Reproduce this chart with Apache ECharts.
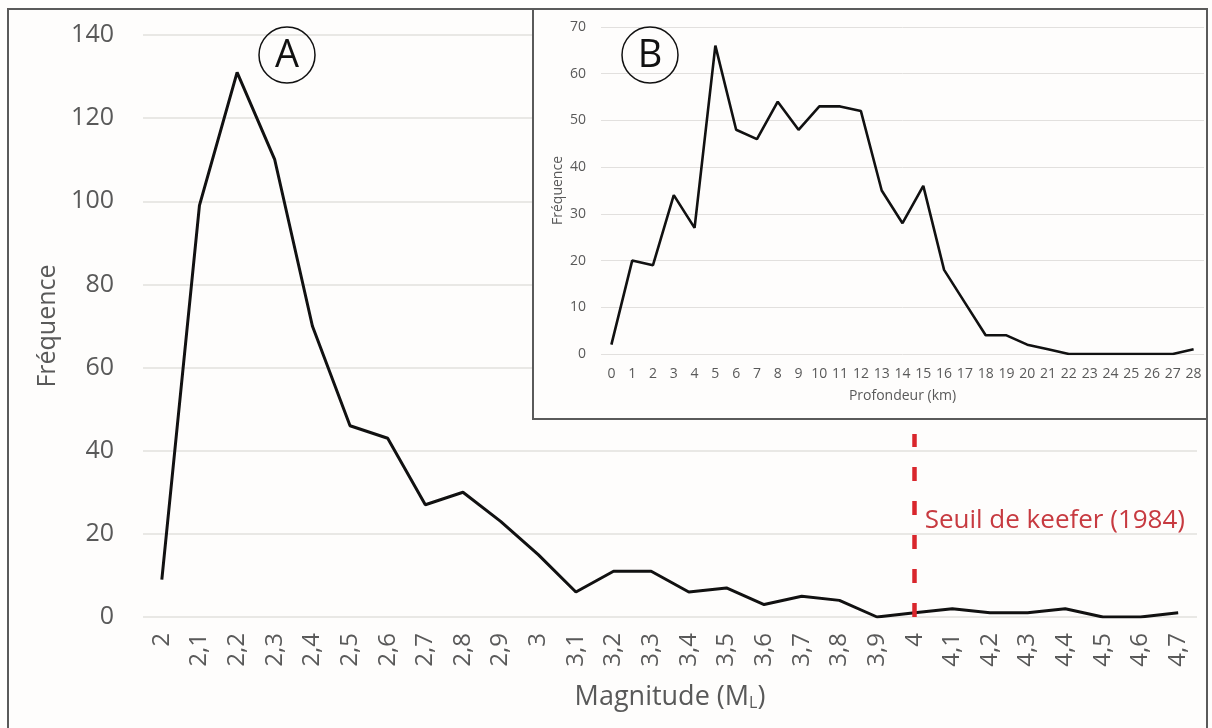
<!DOCTYPE html>
<html>
<head>
<meta charset="utf-8">
<script src="https://cdn.jsdelivr.net/npm/echarts@6/dist/echarts.min.js"></script>
<style>
html,body{margin:0;padding:0;background:#fefdfc;}
#chart{width:1212px;height:728px;}
</style>
</head>
<body>
<div id="chart"></div>
<script>
// Main chart (A): magnitude distribution
const magnitudeLabels = ['2','2,1','2,2','2,3','2,4','2,5','2,6','2,7','2,8','2,9','3','3,1','3,2','3,3','3,4','3,5','3,6','3,7','3,8','3,9','4','4,1','4,2','4,3','4,4','4,5','4,6','4,7'];
const magnitudeFreq = [9,99,131,110,70,46,43,27,30,23,15,6,11,11,6,7,3,5,4,0,1,2,1,1,2,0,0,1];

// Inset chart (B): depth distribution
const depthLabels = ['0','1','2','3','4','5','6','7','8','9','10','11','12','13','14','15','16','17','18','19','20','21','22','23','24','25','26','27','28'];
const depthFreq = [2,20,19,34,27,66,48,46,54,48,53,53,52,35,28,36,18,11,4,4,2,1,0,0,0,0,0,0,1];

// Keefer (1984) threshold
const thresholdMagnitude = '4';
const thresholdLineTop = 44;
const thresholdLabelLevel = 23.3;
const thresholdLabel = 'Seuil de keefer (1984)';

const FONT = '"Open Sans", sans-serif';
const GREY = '#595959';
const GRIDC = '#e2e0de';

const chart = echarts.init(document.getElementById('chart'), null, {renderer: 'canvas'});
chart.setOption({
  backgroundColor: '#fefdfc',
  animation: false,
  textStyle: {fontFamily: FONT},
  grid: [
    {left: 143, right: 15, top: 35, bottom: 111, outerBoundsMode: 'none', containLabel: false},
    {left: 601, right: 8, top: 27, bottom: 374, outerBoundsMode: 'none', containLabel: false, z: 6}
  ],
  xAxis: [
    {
      type: 'category', gridIndex: 0, data: magnitudeLabels, boundaryGap: true,
      axisLine: {show: false}, axisTick: {show: false},
      axisLabel: {rotate: 90, fontSize: 24, color: GREY, margin: 16, interval: 0, fontFamily: FONT},
      name: 'Magnitude (M{sub|L})', nameLocation: 'middle', nameGap: 66,
      nameTextStyle: {fontSize: 27, color: GREY, fontFamily: FONT,
        rich: {sub: {fontSize: 16, color: GREY, verticalAlign: 'bottom', fontFamily: FONT, padding: [12, 0, 0, 0]}}}
    },
    {
      type: 'category', gridIndex: 1, data: depthLabels, boundaryGap: true, z: 6,
      axisLine: {show: false}, axisTick: {show: false},
      axisLabel: {fontSize: 14, color: GREY, margin: 13, interval: 0, fontFamily: FONT},
      name: 'Profondeur (km)', nameLocation: 'middle', nameGap: 35,
      nameTextStyle: {fontSize: 14, color: GREY, fontFamily: FONT}
    }
  ],
  yAxis: [
    {
      type: 'value', gridIndex: 0, min: 0, max: 140, interval: 20,
      axisLine: {show: false}, axisTick: {show: false},
      axisLabel: {fontSize: 25, color: GREY, margin: 29, fontFamily: FONT},
      splitLine: {lineStyle: {color: GRIDC, width: 1.5}},
      name: 'Fréquence', nameLocation: 'middle', nameGap: 82,
      nameTextStyle: {fontSize: 25, color: GREY, fontFamily: FONT}
    },
    {
      type: 'value', gridIndex: 1, min: 0, max: 70, interval: 10, z: 6,
      axisLine: {show: false}, axisTick: {show: false},
      axisLabel: {fontSize: 14, color: GREY, margin: 15, fontFamily: FONT},
      splitLine: {lineStyle: {color: GRIDC, width: 1}},
      name: 'Fréquence', nameLocation: 'middle', nameGap: 36,
      nameTextStyle: {fontSize: 14, color: GREY, fontFamily: FONT}
    }
  ],
  series: [
    {
      type: 'line', xAxisIndex: 0, yAxisIndex: 0, data: magnitudeFreq,
      symbol: 'none', lineStyle: {color: '#111', width: 3}, z: 2,
      markLine: {
        silent: true, symbol: ['none', 'none'],
        lineStyle: {color: '#d9262c', width: 4.5, type: [14, 20]},
        label: {show: false},
        data: [[{xAxis: thresholdMagnitude, yAxis: 0}, {xAxis: thresholdMagnitude, yAxis: thresholdLineTop}]]
      },
      markPoint: {
        silent: true, symbol: 'circle', symbolSize: 0,
        label: {show: true, position: 'right', distance: 10, formatter: thresholdLabel,
          color: '#c73a40', fontSize: 26, fontFamily: FONT},
        data: [{coord: [thresholdMagnitude, thresholdLabelLevel]}]
      }
    },
    {
      type: 'line', xAxisIndex: 1, yAxisIndex: 1, data: depthFreq,
      symbol: 'none', lineStyle: {color: '#111', width: 2.6}, z: 8
    }
  ],
  graphic: [
    {type: 'rect', z: 1, silent: true, shape: {x: 8, y: 9, width: 1199, height: 740},
      style: {fill: 'none', stroke: '#5a5a5a', lineWidth: 2}},
    {type: 'rect', z: 5, silent: true, shape: {x: 533, y: 9, width: 674, height: 410},
      style: {fill: '#fefdfc', stroke: '#5a5a5a', lineWidth: 2}},
    {type: 'circle', z: 9, silent: true, shape: {cx: 287, cy: 55, r: 28},
      style: {fill: 'none', stroke: '#111', lineWidth: 1.5}},
    {type: 'text', z: 9, silent: true, x: 287, y: 56,
      style: {text: 'A', fill: '#111', font: '38px "Open Sans", sans-serif', align: 'center', verticalAlign: 'middle'}},
    {type: 'circle', z: 9, silent: true, shape: {cx: 650, cy: 55, r: 28},
      style: {fill: 'none', stroke: '#111', lineWidth: 1.5}},
    {type: 'text', z: 9, silent: true, x: 650, y: 56,
      style: {text: 'B', fill: '#111', font: '38px "Open Sans", sans-serif', align: 'center', verticalAlign: 'middle'}}
  ]
});
</script>
</body>
</html>
